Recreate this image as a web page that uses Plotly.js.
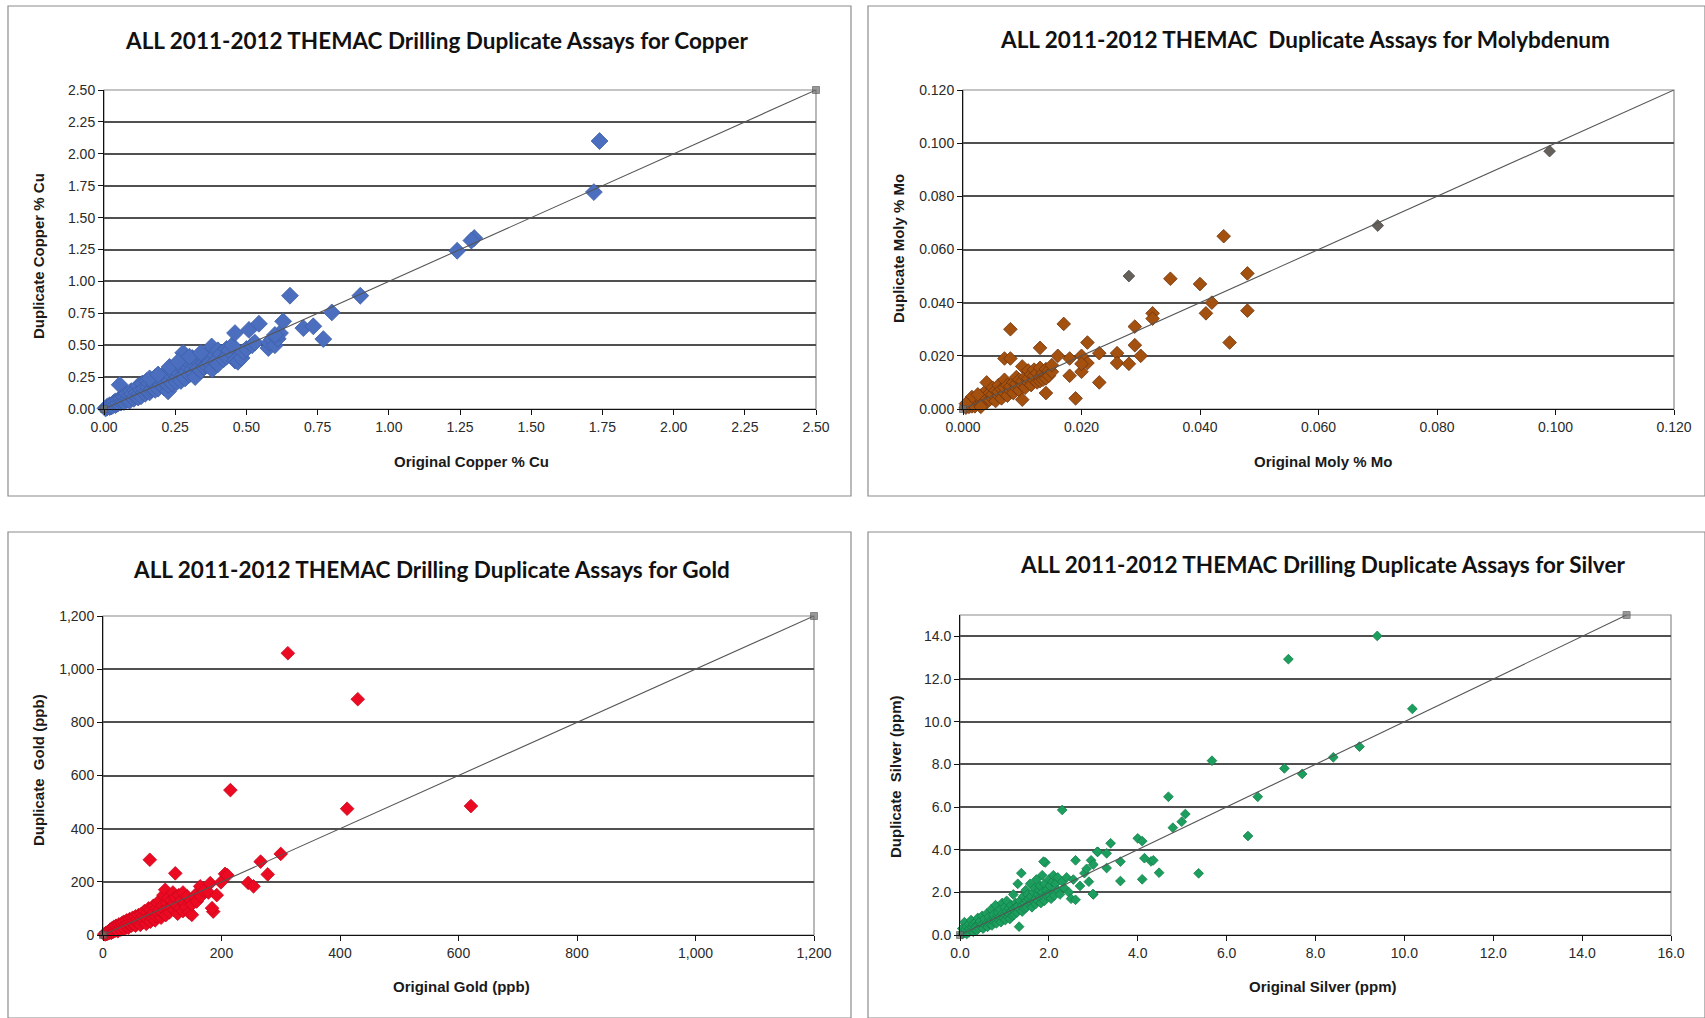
<!DOCTYPE html>
<html>
<head>
<meta charset="utf-8">
<script src="https://cdn.plot.ly/plotly-3.0.1.min.js"></script>
<style>html,body{margin:0;padding:0;background:#fff;}#chart{width:1705px;height:1018px;}</style>
</head>
<body>
<div id="chart"></div>
<script>
// ---------------- DATA ----------------
const titles = [
  "ALL 2011-2012 THEMAC Drilling Duplicate Assays for Copper",
  "ALL 2011-2012 THEMAC  Duplicate Assays for Molybdenum",
  "ALL 2011-2012 THEMAC Drilling Duplicate Assays for Gold",
  "ALL 2011-2012 THEMAC Drilling Duplicate Assays for Silver"
];
const xTitles = ["Original Copper % Cu", "Original Moly % Mo", "Original Gold (ppb)", "Original Silver (ppm)"];
const yTitles = ["Duplicate Copper % Cu", "Duplicate Moly % Mo", "Duplicate  Gold (ppb)", "Duplicate  Silver (ppm)"];

// Copper (% Cu)
const cuOriginal = [0.005,0.01,0.012,0.02,0.02,0.025,0.03,0.03,0.035,0.04,0.04,0.045,0.05,0.05,0.055,0.06,0.06,0.065,0.07,0.07,0.075,0.08,0.08,0.085,0.09,0.09,0.095,0.1,0.1,0.105,0.11,0.11,0.115,0.12,0.12,0.125,0.13,0.13,0.135,0.14,0.14,0.145,0.15,0.15,0.155,0.16,0.16,0.165,0.17,0.17,0.175,0.18,0.18,0.185,0.19,0.19,0.2,0.2,0.205,0.21,0.21,0.215,0.22,0.225,0.225,0.23,0.23,0.24,0.24,0.245,0.25,0.25,0.255,0.26,0.26,0.265,0.27,0.27,0.278,0.28,0.28,0.285,0.29,0.29,0.295,0.3,0.3,0.31,0.31,0.315,0.32,0.32,0.33,0.33,0.34,0.34,0.35,0.35,0.36,0.36,0.37,0.37,0.378,0.38,0.39,0.39,0.4,0.4,0.41,0.42,0.43,0.43,0.44,0.45,0.46,0.47,0.483,0.49,0.5,0.52,0.53,0.577,0.58,0.589,0.6,0.61,0.618,0.6,0.46,0.509,0.544,0.629,0.70,0.735,0.77,0.653,0.80,0.90,1.24,1.30,1.29,1.72,1.74,0.16,0.19,0.23,0.26,0.3,0.34];
const cuDuplicate = [0.005,0.01,0.02,0.015,0.03,0.02,0.04,0.025,0.05,0.03,0.06,0.04,0.07,0.045,0.19,0.05,0.08,0.06,0.1,0.055,0.09,0.07,0.12,0.08,0.1,0.065,0.14,0.09,0.12,0.08,0.15,0.1,0.13,0.09,0.18,0.12,0.15,0.1,0.2,0.13,0.16,0.12,0.22,0.14,0.17,0.13,0.2,0.15,0.23,0.16,0.19,0.15,0.25,0.18,0.21,0.16,0.24,0.19,0.22,0.17,0.27,0.2,0.24,0.138,0.19,0.28,0.22,0.25,0.2,0.3,0.23,0.27,0.21,0.32,0.25,0.28,0.22,0.35,0.44,0.27,0.31,0.24,0.38,0.29,0.33,0.27,0.36,0.31,0.4,0.28,0.34,0.25,0.37,0.32,0.42,0.3,0.36,0.33,0.4,0.34,0.45,0.36,0.49,0.31,0.42,0.37,0.46,0.35,0.43,0.39,0.47,0.41,0.46,0.5,0.38,0.37,0.40,0.45,0.47,0.5,0.52,0.478,0.52,0.543,0.5,0.55,0.595,0.58,0.595,0.62,0.668,0.687,0.634,0.648,0.548,0.888,0.757,0.888,1.24,1.34,1.32,1.70,2.10,0.24,0.27,0.33,0.37,0.41,0.44];

// Molybdenum (% Mo)
const moOriginal = [0.0005,0.001,0.001,0.0015,0.0015,0.002,0.002,0.002,0.0025,0.003,0.003,0.003,0.0035,0.0035,0.004,0.004,0.004,0.0045,0.0045,0.005,0.005,0.005,0.0055,0.0055,0.006,0.006,0.006,0.0065,0.0065,0.007,0.007,0.007,0.007,0.0075,0.0075,0.008,0.008,0.008,0.008,0.0085,0.0085,0.009,0.009,0.009,0.0095,0.0095,0.01,0.01,0.01,0.01,0.0105,0.0105,0.011,0.011,0.011,0.0115,0.0115,0.012,0.012,0.012,0.0125,0.0125,0.013,0.013,0.013,0.013,0.0135,0.0135,0.014,0.014,0.014,0.014,0.0145,0.0145,0.015,0.015,0.0015,0.0025,0.0005,0.003,0.016,0.017,0.018,0.018,0.019,0.020,0.020,0.021,0.021,0.020,0.023,0.023,0.026,0.026,0.028,0.029,0.029,0.030,0.032,0.032,0.035,0.040,0.042,0.041,0.045,0.048,0.048,0.044];
const moDuplicate = [0.0005,0.002,0.0008,0.001,0.003,0.0015,0.004,0.001,0.0025,0.002,0.005,0.0035,0.003,0.006,0.0025,0.004,0.01,0.0035,0.006,0.004,0.0055,0.008,0.003,0.007,0.005,0.0065,0.009,0.004,0.0075,0.006,0.008,0.011,0.019,0.005,0.009,0.007,0.0085,0.019,0.030,0.006,0.01,0.008,0.0095,0.012,0.007,0.011,0.009,0.0035,0.016,0.0105,0.008,0.012,0.01,0.0115,0.0145,0.009,0.013,0.011,0.0125,0.0148,0.01,0.0135,0.012,0.0105,0.023,0.0155,0.011,0.0135,0.013,0.006,0.015,0.0115,0.0145,0.0125,0.014,0.0165,0.0045,0.0055,0.002,0.0008,0.020,0.032,0.019,0.0125,0.004,0.020,0.014,0.025,0.0173,0.017,0.021,0.010,0.021,0.0173,0.017,0.031,0.024,0.020,0.036,0.034,0.049,0.047,0.040,0.036,0.025,0.051,0.037,0.065];
const moOriginalB = [0.028,0.070,0.099];
const moDuplicateB = [0.050,0.069,0.097];

// Gold (ppb)
const auOriginal = [2,4,5,6,8,8,10,10,12,12,14,15,15,17,18,18,20,20,22,22,24,25,25,27,28,30,30,32,33,35,35,36,38,40,40,42,43,45,45,47,48,50,50,52,53,55,55,57,58,60,60,62,63,65,65,67,68,70,70,72,73,75,75,77,78,80,80,82,84,85,86,88,90,90,92,94,95,96,98,100,100,102,104,105,106,108,110,110,112,115,116,118,120,120,122,125,126,128,130,132,135,135,138,140,142,145,148,150,150,155,158,160,164,165,170,178,79,122,181,186,184,192,199,206,210,245,254,266,278,300,215,312,412,430,621];
const auDuplicate = [3,2,8,4,12,5,7,15,10,20,8,14,25,12,20,30,15,25,18,35,22,28,14,40,24,30,20,45,28,35,50,22,40,32,55,45,28,38,60,50,35,45,65,40,55,70,35,50,60,45,75,55,38,80,62,48,70,55,90,65,42,85,60,100,70,50,95,75,62,110,85,55,100,70,120,80,95,130,65,110,85,150,95,170,75,120,100,140,85,130,105,160,95,120,140,110,80,150,100,130,90,160,120,105,145,85,130,76,115,145,126,160,183,145,165,160,283,232,195,88,101,150,198,230,225,196,183,276,228,305,545,1060,475,887,485];

// Silver (ppm)
const agOriginal = [0.05,0.05,0.08,0.1,0.1,0.12,0.15,0.15,0.18,0.2,0.2,0.22,0.25,0.25,0.28,0.3,0.3,0.32,0.35,0.35,0.38,0.4,0.4,0.42,0.45,0.45,0.48,0.5,0.5,0.52,0.55,0.55,0.58,0.6,0.6,0.62,0.65,0.65,0.68,0.7,0.7,0.72,0.75,0.75,0.78,0.8,0.8,0.82,0.85,0.85,0.88,0.9,0.9,0.92,0.95,0.95,0.98,1.0,1.0,1.02,1.05,1.05,1.08,1.1,1.1,1.12,1.15,1.15,1.18,1.2,1.2,1.22,1.25,1.25,1.28,1.3,1.3,1.33,1.35,1.35,1.38,1.4,1.4,1.42,1.45,1.45,1.48,1.5,1.5,1.52,1.55,1.55,1.58,1.6,1.6,1.62,1.65,1.65,1.68,1.7,1.7,1.72,1.75,1.75,1.78,1.8,1.8,1.82,1.85,1.85,1.88,1.9,1.9,1.92,1.95,1.95,2.0,2.0,2.02,2.05,2.08,2.1,2.1,2.12,2.15,2.2,2.2,2.25,2.3,2.35,2.4,2.45,2.5,2.55,2.6,2.6,2.7,2.8,2.85,2.9,2.95,3.0,3.0,3.1,2.3,1.88,2.99,3.09,3.3,3.39,3.30,3.61,3.61,4.0,4.1,4.15,4.3,4.35,4.10,4.48,4.79,4.99,5.07,4.69,5.37,5.67,6.48,6.70,7.30,7.70,8.40,8.99,10.18,7.39,9.39];
const agDuplicate = [0.05,0.3,0.15,0.6,0.1,0.25,0.05,0.4,0.2,0.5,0.12,0.3,0.7,0.2,0.35,0.15,0.5,0.28,0.6,0.4,0.22,0.8,0.45,0.32,0.55,0.65,0.38,0.9,0.5,0.3,0.6,0.75,0.45,1.0,0.55,0.38,0.7,0.85,0.5,1.2,0.65,0.45,0.8,0.95,0.6,1.4,0.75,0.55,0.9,1.05,0.7,1.2,0.85,0.6,1.0,1.5,0.8,1.3,0.95,0.7,1.1,1.6,0.85,1.25,1.0,0.75,1.4,1.1,0.9,1.9,1.2,0.95,1.5,1.3,1.05,2.4,1.35,0.39,1.6,1.2,2.9,1.4,1.1,1.8,1.5,1.25,2.1,1.6,1.3,1.9,1.45,1.7,2.4,1.5,1.8,1.3,2.0,1.6,2.2,1.7,1.45,2.6,1.9,1.6,2.1,1.75,2.3,1.5,2.0,2.8,1.8,2.4,1.6,3.4,2.1,1.85,2.6,1.9,2.3,1.7,2.5,2.0,2.8,1.85,2.4,2.1,2.7,1.9,2.5,2.2,2.7,2.0,1.7,2.6,3.5,1.65,2.3,2.9,3.1,2.5,3.5,1.9,3.3,3.9,5.86,3.44,1.92,3.9,3.14,4.30,3.83,3.44,2.53,4.53,4.4,3.6,3.45,3.5,2.61,2.92,5.03,5.31,5.67,6.48,2.89,8.17,4.64,6.48,7.81,7.55,8.33,8.83,10.6,12.93,14.02];

// 1:1 reference lines (axis maxima)
const refCu = [0, 2.5];
const refMo = [0, 0.12];
const refAu = [0, 1200];
const refAg = [0, 15];

// ---------------- LAYOUT HELPERS ----------------
const W = 1705, H = 1018;
const px = v => v / W;
const py = v => 1 - v / H;

// plot areas in pixels [x0, x1, yTop, yBottom]
const areas = [
  [104, 816, 90, 409],
  [963, 1674, 90, 409],
  [103, 814, 616, 935],
  [960, 1671, 615, 935]
];
const panels = [ [8, 851, 6, 496], [868, 1705, 6, 496], [8, 851, 532, 1018], [868, 1705, 532, 1018] ];
const titlePos = [[437, 41], [1305, 40], [431, 569], [1322, 564]];
const xTitlePos = [[471, 461], [1323, 461], [461, 986], [1323, 986]];
const yTitlePos = [[38, 256], [898, 249], [38, 770], [895, 777]];

const tickFont = {family: "Liberation Sans, Arial, sans-serif", size: 14, color: "#2a2a2a"};
const labelFont = {family: "Liberation Sans, Arial, sans-serif", size: 15, color: "#1a1a1a"};
const gridColor = "#505050";

function axisBase(extra) {
  return Object.assign({
    showgrid: false, zeroline: false, showline: true, linecolor: "#111", linewidth: 1,
    ticks: "outside", ticklen: 5, tickcolor: "#111", tickfont: tickFont, fixedrange: true
  }, extra);
}

const layout = {
  width: W, height: H, margin: {l: 0, r: 0, t: 0, b: 0},
  paper_bgcolor: "#fff", plot_bgcolor: "#fff", showlegend: false,
  annotations: [], shapes: []
};

const xConf = [
  {range: [0, 2.5], dtick: 0.25, tickformat: ".2f"},
  {range: [0, 0.12], dtick: 0.02, tickformat: ".3f"},
  {range: [0, 1200], dtick: 200, tickformat: ",d"},
  {range: [0, 16], dtick: 2, tickformat: ".1f"}
];
const yConf = [
  {range: [0, 2.5], dtick: 0.25, tickformat: ".2f"},
  {range: [0, 0.12], dtick: 0.02, tickformat: ".3f"},
  {range: [0, 1200], dtick: 200, tickformat: ",d"},
  {range: [0, 15], dtick: 2, tickformat: ".1f"}
];

for (let i = 0; i < 4; i++) {
  const s = i === 0 ? "" : String(i + 1);
  const a = areas[i];
  layout["xaxis" + s] = axisBase(Object.assign({domain: [px(a[0]), px(a[1])], anchor: "y" + s}, xConf[i]));
  layout["yaxis" + s] = axisBase(Object.assign({domain: [py(a[3]), py(a[2])], anchor: "x" + s, showgrid: true, gridcolor: gridColor, gridwidth: 2}, yConf[i]));
  // plot area border (gray)
  layout.shapes.push({type: "rect", xref: "x" + s + " domain", yref: "y" + s + " domain", x0: 0, x1: 1, y0: 0, y1: 1,
    line: {color: "#8a8a8a", width: 1.2}, layer: "below"});
  // panel frame
  const p = panels[i];
  layout.shapes.push({type: "rect", xref: "paper", yref: "paper", x0: px(p[0]), x1: px(p[1]), y0: py(p[3]), y1: py(p[2]),
    line: {color: "#8c8c8c", width: 1.2}});
  layout.annotations.push({text: "<b>" + titles[i] + "</b>", xref: "paper", yref: "paper", x: px(titlePos[i][0]), y: py(titlePos[i][1]),
    xanchor: "center", yanchor: "middle", showarrow: false, font: {family: "Lato, Carlito, Calibri, sans-serif", size: 22.5, color: "#111"}});
  layout.annotations.push({text: "<b>" + xTitles[i] + "</b>", xref: "paper", yref: "paper", x: px(xTitlePos[i][0]), y: py(xTitlePos[i][1]),
    xanchor: "center", yanchor: "middle", showarrow: false, font: labelFont});
  layout.annotations.push({text: "<b>" + yTitles[i] + "</b>", xref: "paper", yref: "paper", x: px(yTitlePos[i][0]), y: py(yTitlePos[i][1]),
    xanchor: "center", yanchor: "middle", textangle: -90, showarrow: false, font: labelFont});
}

function scatter(x, y, ax, color, size, outline) {
  return {type: "scatter", mode: "markers", x: x, y: y, xaxis: "x" + ax, yaxis: "y" + ax, hoverinfo: "x+y",
    marker: {symbol: "diamond", color: color, size: size, line: {color: outline, width: 0.8}}, cliponaxis: false};
}
function refLine(r, ax, ends) {
  return {type: "scatter", mode: "lines+markers", x: r, y: r, xaxis: "x" + ax, yaxis: "y" + ax, hoverinfo: "skip",
    line: {color: "#555", width: 1.1},
    marker: {symbol: "square", size: [7, ends ? 7 : 0], color: "#6e6e6e"}, cliponaxis: false};
}

const data = [
  scatter(cuOriginal, cuDuplicate, "", "#4b6fbe", 13, "#3d5ea8"),
  refLine(refCu, "", true),
  scatter(moOriginal, moDuplicate, "2", "#a4500e", 10.5, "#6e3510"),
  scatter(moOriginalB, moDuplicateB, "2", "#66605a", 9, "#4a4a4a"),
  refLine(refMo, "2", false),
  scatter(auOriginal, auDuplicate, "3", "#ec0a22", 10.5, "#c8081e"),
  refLine(refAu, "3", true),
  scatter(agOriginal, agDuplicate, "4", "#1c9e5e", 7.5, "#14804a"),
  refLine(refAg, "4", true)
];

Plotly.newPlot("chart", data, layout, {staticPlot: true, displayModeBar: false});
</script>
</body>
</html>
